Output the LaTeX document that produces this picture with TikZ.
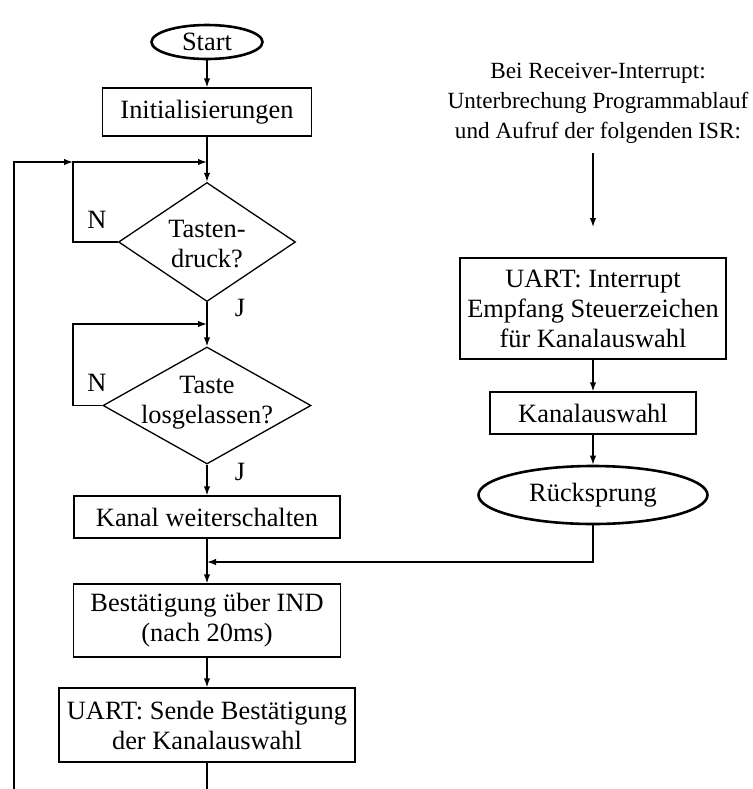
\documentclass[tikz,border=0pt]{standalone}
\usepackage{fontspec}
\setmainfont{Liberation Serif}
\usetikzlibrary{arrows.meta,shapes.geometric}
\begin{document}
\begin{tikzpicture}[x=0.5pt,y=-0.5pt,
  every node/.style={font=\fontsize{13.2}{15}\selectfont},
  line/.style={line width=0.65pt},
  arr/.style={line, -{Latex[length=4.5pt,width=3.2pt]}},
  box/.style={draw, line width=0.65pt, rectangle, inner sep=0pt, align=center},
  term/.style={draw, line width=1.3pt, ellipse, inner sep=0pt},
  decision/.style={draw, line width=0.65pt, diamond, inner sep=0pt},
  lbl/.style={inner sep=0pt, align=center},
  note/.style={inner sep=0pt, align=center, font=\fontsize{11.6}{15}\selectfont}]
\useasboundingbox (0,0) rectangle (752,789);

% main loop
\node[term, minimum width=55.5pt, minimum height=17pt] (start) at (207,42) {Start};
\node[box, minimum width=104.5pt, minimum height=24pt] (init) at (207,112) {Initialisierungen};
\node[decision, minimum width=88.5pt, minimum height=59.5pt,
      label={[lbl, yshift=-1pt]center:Tasten-\\druck?}] (d1) at (207,242) {};
\node[decision, minimum width=104pt, minimum height=58.5pt,
      label={[lbl, yshift=1.5pt]center:Taste\\losgelassen?}] (d2) at (207,405.5) {};
\node[box, minimum width=133pt, minimum height=21pt] (kanal) at (207,517) {Kanal weiterschalten};
\node[box, minimum width=133.5pt, minimum height=36.5pt] (best) at (207,620.5) {Bestätigung über IND\\(nach 20ms)};
\node[box, minimum width=148pt, minimum height=37pt] (uart2) at (207,725) {UART: Sende Bestätigung\\der Kanalauswahl};

% decision labels
\node[lbl] (n1lbl) at (97,220) {N};
\node[lbl] (j1lbl) at (240,308) {J};
\node[lbl] (n2lbl) at (97,383) {N};
\node[lbl] (j2lbl) at (240,472) {J};

% interrupt service routine
\node[note] (isrtxt) at (598,103) {Bei Receiver-Interrupt:\\Unterbrechung Programmablauf\\und Aufruf der folgenden ISR:};
\node[box, minimum width=133pt, minimum height=50.5pt] (uart1) at (593,308.5) {UART: Interrupt\\Empfang Steuerzeichen\\für Kanalauswahl};
\node[box, minimum width=103pt, minimum height=21pt] (kaw) at (593,413) {Kanalauswahl};
\node[term, minimum width=114.5pt, minimum height=29pt] (ruck) at (593,495) {Rücksprung};

% junction points
\coordinate (m1) at (207,162);
\coordinate (n1) at (73,162);
\coordinate (m2) at (207,324);
\coordinate (n2) at (73,324);
\coordinate (m3) at (207,562);
\coordinate (back) at (14,789);
\coordinate (end) at (207,789);
\coordinate (isrA) at (593,153);
\coordinate (isrB) at (593,227);

% connectors
\draw[arr] (start) -- (init);
\draw[arr] (init.south) -- (d1.north);
\draw[arr] (d1.west) -| (n1) -- (m1);
\draw[arr] (back) |- (n1);
\draw[arr] (d1.south) -- (d2.north);
\draw[arr] (d2.west) -| (n2) -- (m2);
\draw[arr] (d2.south) -- (kanal.north);
\draw[arr] (kanal.south) -- (best.north);
\draw[arr] (ruck.south) |- (m3);
\draw[arr] (best.south) -- (uart2.north);
\draw[line] (uart2.south) -- (end);
\draw[arr] (isrA) -- (isrB);
\draw[arr] (uart1.south) -- (kaw.north);
\draw[arr] (kaw.south) -- (ruck.north);
\end{tikzpicture}
\end{document}
